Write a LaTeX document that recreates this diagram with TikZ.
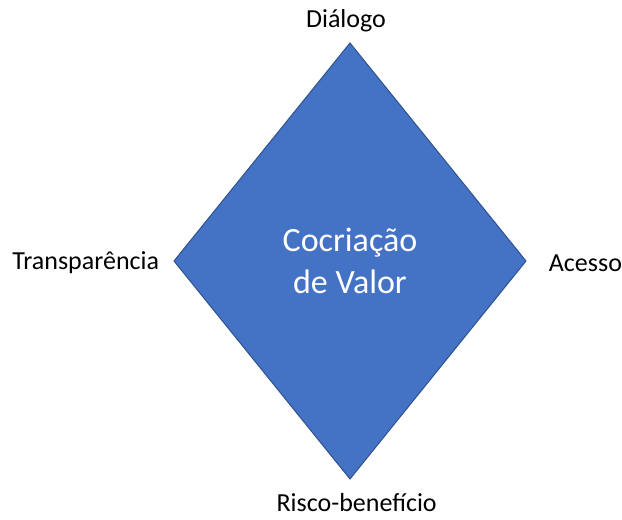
\documentclass[tikz,border=0pt]{standalone}
\usepackage{fontspec}
\setmainfont{Carlito}
\usetikzlibrary{shapes.geometric,positioning}
\definecolor{valorblue}{HTML}{4472C4}
\definecolor{valorline}{HTML}{2F528F}

\begin{document}
\begin{tikzpicture}[x=0.75pt,y=-0.75pt,
	losango/.style={diamond, draw=valorline, fill=valorblue, line width=0.75pt,
		minimum width=264pt, minimum height=327pt, inner sep=0pt, outer sep=0pt,
		text=white, align=center, font=\fontsize{25.5}{31}\selectfont},
	rotulo/.style={font=\fontsize{19.5}{23}\selectfont, inner sep=0pt}]
	\useasboundingbox (0,0) rectangle (622,520);
	\node[losango] (valor) at (350,261) {Cocriação\\de Valor};
	\node[rotulo, above=8pt of valor.north, xshift=-3pt] (dialogo) {Diálogo};
	\node[rotulo, left=11pt of valor.west, yshift=-1.5pt] (transp) {Transparência};
	\node[rotulo, right=17pt of valor.east, yshift=-1.5pt] (acesso) {Acesso};
	\node[rotulo, below=11pt of valor.south, xshift=5pt] (risco) {Risco-benefício};
\end{tikzpicture}
\end{document}
